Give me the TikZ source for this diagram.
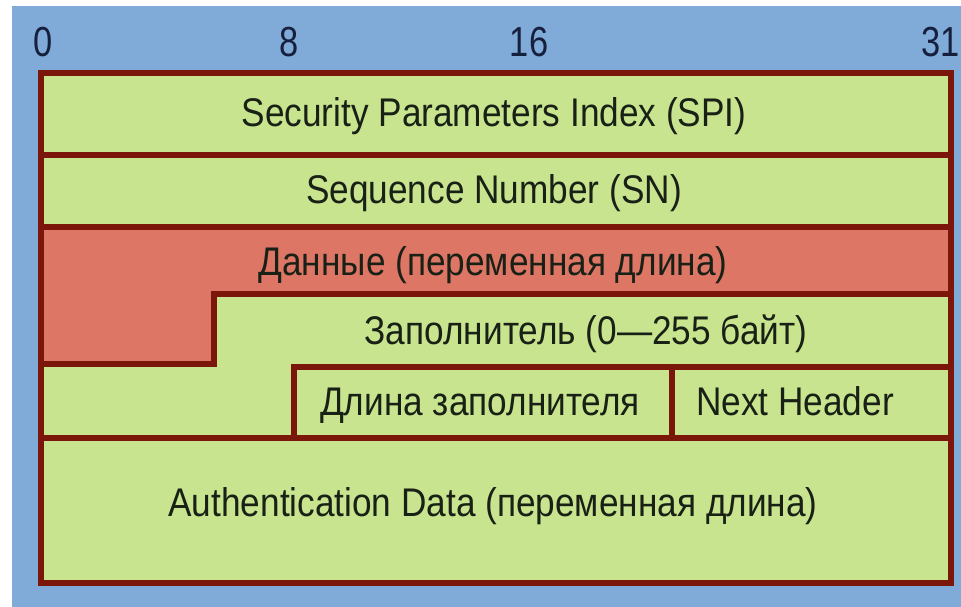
\documentclass[tikz,border=0pt]{standalone}
\usepackage{fontspec}
\setmainfont{Liberation Sans}
\newfontfamily\fieldfont[FakeStretch=0.88]{Liberation Sans}
\newfontfamily\bitfont[FakeStretch=0.82]{Liberation Sans}
\definecolor{bgblue}{RGB}{128,170,215}
\definecolor{fieldgreen}{RGB}{200,228,142}
\definecolor{datared}{RGB}{222,118,102}
\definecolor{linered}{RGB}{122,22,10}
\definecolor{inkdark}{RGB}{25,32,22}
\definecolor{bitink}{RGB}{22,32,60}

\begin{document}
\begin{tikzpicture}[x=1pt,y=-1pt,
  field/.style={font=\fieldfont\fontsize{40}{40}\selectfont,anchor=base,inner sep=0pt,text=inkdark},
  bitno/.style={font=\bitfont\fontsize{42}{42}\selectfont,anchor=base,inner sep=0pt,text=bitink},
  sep/.style={draw=linered,line width=6pt}]
\useasboundingbox (0,0) rectangle (961,607);
\fill[bgblue] (12,6) rectangle (961,607);

% bit numbers
\node[bitno] (b0) at (43,57) {0};
\node[bitno] (b8) at (289,57) {8};
\node[bitno] (b16) at (529,57) {16};
\node[bitno,anchor=base east] (b31) at (960,57) {31};

% areas
\fill[fieldgreen] (41,73) rectangle (951,583);
\fill[datared] (41,227) -- (951,227) -- (951,294) -- (214,294) -- (214,364) -- (41,364) -- cycle;

% borders
\draw[sep] (41,155) -- (951,155);
\draw[sep] (41,227) -- (951,227);
\draw[sep] (951,294) -- (214,294) -- (214,364) -- (41,364);
\draw[sep] (294,438) -- (294,367) -- (951,367);
\draw[sep] (672,367) -- (672,438);
\draw[sep] (41,438) -- (951,438);
\draw[sep] (41,73) rectangle (951,583);

% field names
\node[field] (spi) at (494,127) {Security Parameters Index (SPI)};
\node[field] (sn) at (494,203) {Sequence Number (SN)};
\node[field] (data) at (493,275) {Данные (переменная длина)};
\node[field] (pad) at (586,344) {Заполнитель (0—255 байт)};
\node[field] (padlen) at (480,415) {Длина заполнителя};
\node[field] (nexthdr) at (795,415) {Next Header};
\node[field] (auth) at (493,516) {Authentication Data (переменная длина)};
\end{tikzpicture}
\end{document}
